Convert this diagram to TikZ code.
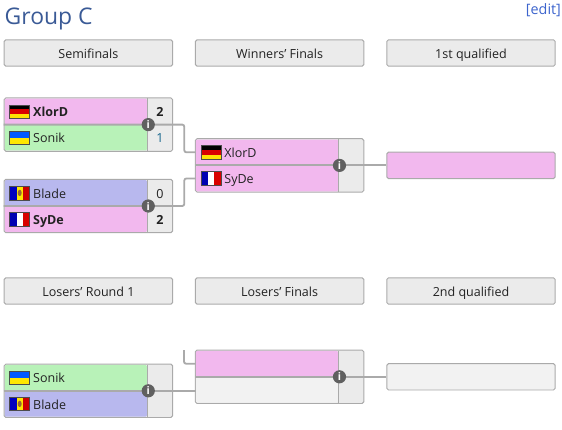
\documentclass[tikz,border=0pt]{standalone}
\usepackage{fontspec}
\setmainfont{Open Sans}
\usepackage{tikz}
\usetikzlibrary{arrows.meta,positioning,calc}
\definecolor{slotpink}{RGB}{242,184,238}
\definecolor{slotgreen}{RGB}{184,242,184}
\definecolor{slotblue}{RGB}{184,184,238}
\definecolor{slotempty}{RGB}{242,242,242}
\definecolor{cellgrey}{RGB}{235,235,235}
\definecolor{edgegrey}{RGB}{170,170,170}
\definecolor{iconslate}{RGB}{96,96,96}
\definecolor{titleblue}{RGB}{58,90,150}
\definecolor{linkblue}{RGB}{60,100,205}
\definecolor{scoreblue}{RGB}{20,100,140}
\definecolor{inkdark}{RGB}{34,34,34}
\tikzset{
  base/.style={font=\fontsize{8.9}{11}\selectfont, text=inkdark, inner sep=0pt, text height=1.85ex, text depth=0.45ex},
  headbox/.style={base, rectangle, rounded corners=1.2pt, draw=edgegrey, fill=cellgrey, line width=0.7pt, minimum width=4.21cm, minimum height=0.66cm},
  qualbox/.style={headbox, fill=slotempty},
  frame/.style={rectangle, rounded corners=1.2pt, draw=edgegrey, fill=cellgrey, line width=0.7pt, minimum width=4.21cm, minimum height=1.335cm},
  row/.style={rectangle, rounded corners=0.8pt, minimum width=3.55cm, minimum height=0.64cm, inner sep=0pt, xshift=0.02cm},
  toprow/.style={row, anchor=south west, fill=#1},
  lowrow/.style={row, anchor=north west, fill=#1},
  player/.style={base},
  champ/.style={base, font=\fontsize{8.9}{11}\selectfont\bfseries},
  score/.style={base, minimum width=0.63cm},
  link/.style={line width=1.3pt, draw=edgegrey, rounded corners=1.5pt},
  cellline/.style={line width=0.6pt, draw=edgegrey},
  info/.style={circle, fill=iconslate, text=white, minimum size=0.33cm, inner sep=0pt, xshift=0.03cm, font=\fontsize{7.5}{8}\selectfont\bfseries},
  pics/flagde/.style={code={
    \fill[black] (0,0.06) rectangle (0.5,0.17);
    \fill[red!85!black] (0,-0.06) rectangle (0.5,0.06);
    \fill[yellow!85!orange] (0,-0.17) rectangle (0.5,-0.06);
    \draw[black!70,line width=0.3pt] (0,-0.17) rectangle (0.5,0.17);
  }},
  pics/flagua/.style={code={
    \fill[blue!65!cyan] (0,0) rectangle (0.5,0.17);
    \fill[yellow!90!orange] (0,-0.17) rectangle (0.5,0);
    \draw[black!70,line width=0.3pt] (0,-0.17) rectangle (0.5,0.17);
  }},
  pics/flagmd/.style={code={
    \fill[blue!75!black] (0,-0.17) rectangle (0.17,0.17);
    \fill[yellow!90!orange] (0.17,-0.17) rectangle (0.33,0.17);
    \fill[red!80!black] (0.33,-0.17) rectangle (0.5,0.17);
    \fill[brown!80!black] (0.25,0) ellipse (0.05 and 0.08);
    \draw[black!70,line width=0.3pt] (0,-0.17) rectangle (0.5,0.17);
  }},
  pics/flagfr/.style={code={
    \fill[blue!70!black] (0,-0.17) rectangle (0.17,0.17);
    \fill[white] (0.17,-0.17) rectangle (0.33,0.17);
    \fill[red!85!black] (0.33,-0.17) rectangle (0.5,0.17);
    \draw[black!70,line width=0.3pt] (0,-0.17) rectangle (0.5,0.17);
  }},
}
\begin{document}
\begin{tikzpicture}
  \useasboundingbox (0,0) rectangle (14.05,10.725);
  \node[base,anchor=west,text=titleblue,font=\fontsize{16.3}{20}\selectfont] (title) at (0.11,10.25) {Group C};
  \node[base,anchor=east,text=linkblue,font=\fontsize{10.2}{11}\selectfont] (edit) at (14.03,10.49) {[edit]};
  % column headers
  \node[headbox] (h1) at (2.21,9.4) {Semifinals};
  \node[headbox] (h2) at (6.99,9.4) {Winners' Finals};
  \node[headbox] (h3) at (11.775,9.4) {1st qualified};
  \node[headbox] (h4) at (2.21,3.45) {Losers' Round 1};
  \node[headbox] (h5) at (6.99,3.45) {Losers' Finals};
  \node[headbox] (h6) at (11.775,3.45) {2nd qualified};
  % matches
  \node[frame] (m1) at (2.21,7.61) {};
  \node[frame] (m2) at (2.21,5.575) {};
  \node[frame] (w1) at (6.99,6.59) {};
  \node[frame] (l1) at (2.21,0.955) {};
  \node[frame] (l2) at (6.99,1.305) {};
  \node[toprow=slotpink] (m1a) at (m1.west) {};
  \node[lowrow=slotgreen] (m1b) at (m1.west) {};
  \node[toprow=slotblue] (m2a) at (m2.west) {};
  \node[lowrow=slotpink] (m2b) at (m2.west) {};
  \node[toprow=slotpink] (w1a) at (w1.west) {};
  \node[lowrow=slotpink] (w1b) at (w1.west) {};
  \node[toprow=slotgreen] (l1a) at (l1.west) {};
  \node[lowrow=slotblue] (l1b) at (l1.west) {};
  \node[toprow=slotpink] (l2a) at (l2.west) {};
  \node[lowrow=slotempty] (l2b) at (l2.west) {};
  \node[qualbox,fill=slotpink] (q1) at (11.775,6.59) {};
  \node[qualbox] (q2) at (11.775,1.305) {};
  % flags and players
  \pic[xshift=0.13cm] at (m1a.west) {flagde};
  \pic[xshift=0.13cm] at (m1b.west) {flagua};
  \pic[xshift=0.13cm] at (m2a.west) {flagmd};
  \pic[xshift=0.13cm] at (m2b.west) {flagfr};
  \pic[xshift=0.13cm] at (w1a.west) {flagde};
  \pic[xshift=0.13cm] at (w1b.west) {flagfr};
  \pic[xshift=0.13cm] at (l1a.west) {flagua};
  \pic[xshift=0.13cm] at (l1b.west) {flagmd};
  \node[champ,right=0.71cm of m1a.west] (m1an) {XlorD};
  \node[player,right=0.71cm of m1b.west] (m1bn) {Sonik};
  \node[player,right=0.71cm of m2a.west] (m2an) {Blade};
  \node[champ,right=0.71cm of m2b.west] (m2bn) {SyDe};
  \node[player,right=0.71cm of w1a.west] (w1an) {XlorD};
  \node[player,right=0.71cm of w1b.west] (w1bn) {SyDe};
  \node[player,right=0.71cm of l1a.west] (l1an) {Sonik};
  \node[player,right=0.71cm of l1b.west] (l1bn) {Blade};
  \node[score,right=0pt of m1a,font=\fontsize{8.9}{11}\selectfont\bfseries] (m1as) {2};
  \node[score,right=0pt of m1b,text=scoreblue] (m1bs) {1};
  \node[score,right=0pt of m2a] (m2as) {0};
  \node[score,right=0pt of m2b,font=\fontsize{8.9}{11}\selectfont\bfseries] (m2bs) {2};
  % connectors
  \foreach \m in {m1,m2,w1,l1,l2}{\draw[cellline] (\m a.north east) -- (\m b.south east);}
  \coordinate (stub) at (4.6,1.975);
  \draw[link] (m1.west) -- (m1.east) -- ++(0.28,0) |- (w1a.west);
  \draw[link] (m2.west) -- (m2.east) -- ++(0.28,0) |- (w1b.west);
  \draw[link] (w1.west) -- (w1.east) -- (q1.west);
  \draw[link] (l1.west) -- (l1.east) -- (l1.east -| l2b.west);
  \draw[link] (l2.west) -- (l2.east) -- (q2.west);
  \draw[link] (stub) |- (l2a.west);
  \foreach \m in {m1,m2,w1,l1,l2}{\node[info] (\m i) at (\m a.south east) {i};}
\end{tikzpicture}
\end{document}
